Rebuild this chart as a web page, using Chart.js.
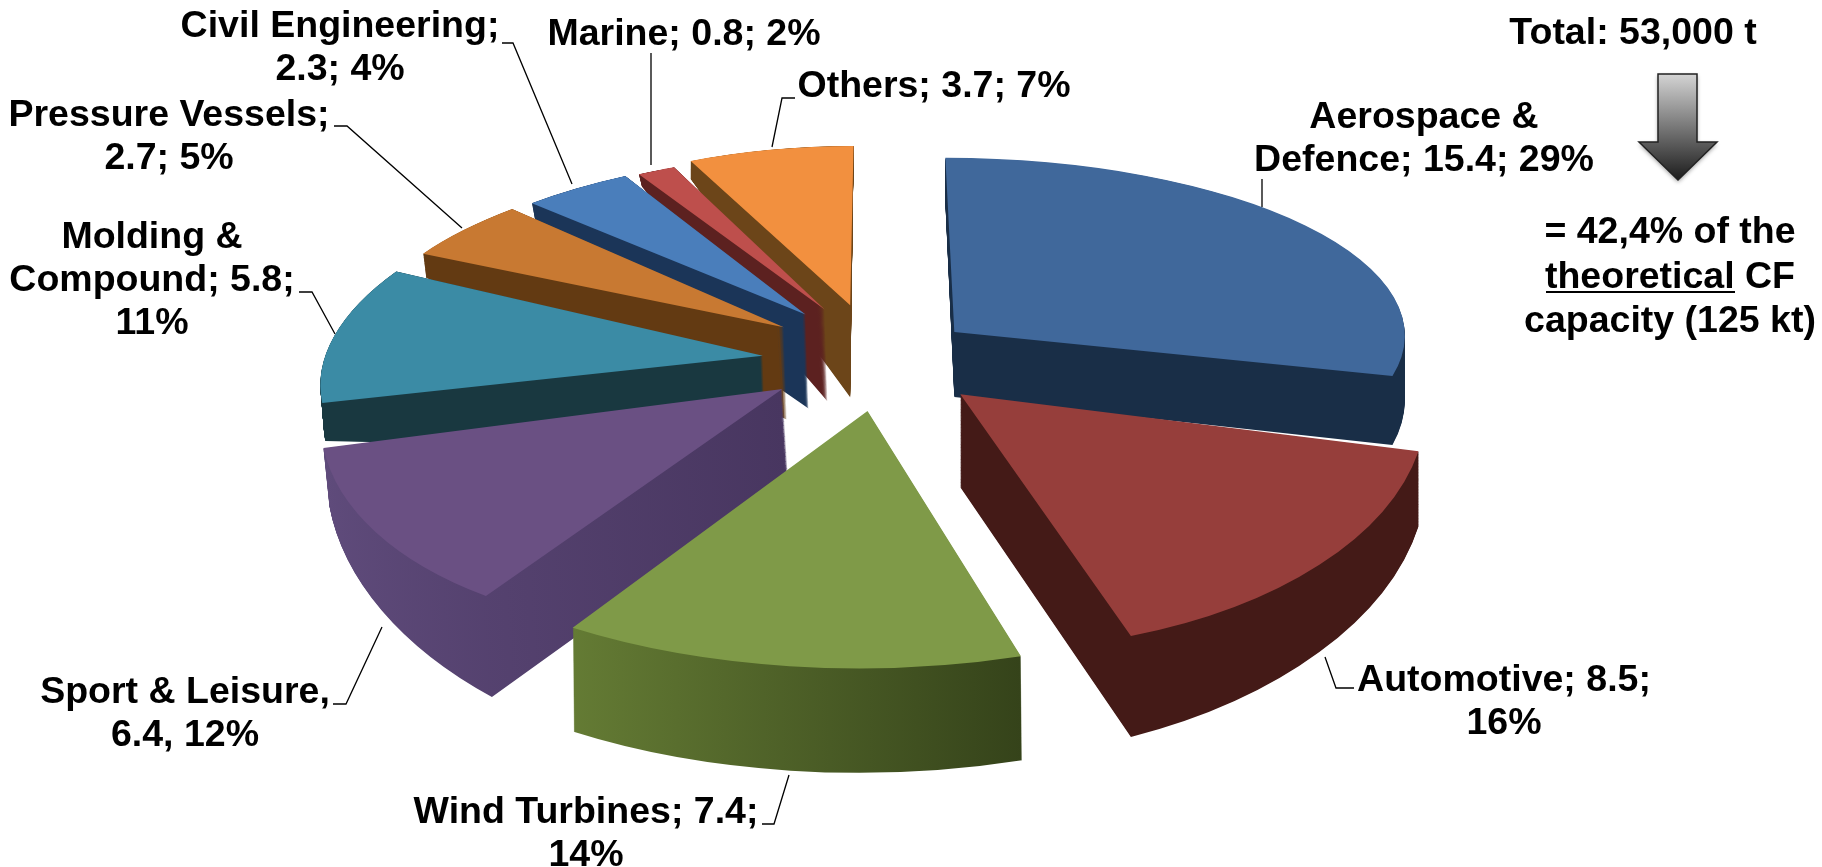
<!DOCTYPE html>
<html>
<head>
<meta charset="utf-8">
<title>CF demand by application</title>
<script src="https://cdn.jsdelivr.net/npm/chart.js@4"></script>
<style>
  html, body { margin: 0; background: #fff; }
  canvas { display: block; }
</style>
</head>
<body>
<canvas id="pieChart" width="1822" height="867"></canvas>
<script>
// data (kt)
const categories = ['Aerospace & Defence', 'Automotive', 'Wind Turbines', 'Sport & Leisure',
    'Molding & Compound', 'Pressure Vessels', 'Civil Engineering', 'Marine', 'Others'];
const values = [15.4, 8.5, 7.4, 6.4, 5.8, 2.7, 2.3, 0.8, 3.7];
const percents = [29, 16, 14, 12, 11, 5, 4, 2, 7];

// label wording, one inner list per slice
const labelLines = [
    ['Aerospace &', 'Defence; 15.4; 29%'],
    ['Automotive; 8.5;', '16%'],
    ['Wind Turbines; 7.4;', '14%'],
    ['Sport & Leisure,', '6.4, 12%'],
    ['Molding &', 'Compound; 5.8;', '11%'],
    ['Pressure Vessels;', '2.7; 5%'],
    ['Civil Engineering;', '2.3; 4%'],
    ['Marine; 0.8; 2%'],
    ['Others; 3.7; 7%']
];
const noteTotal = 'Total: 53,000 t';
const noteLines = ['= 42,4% of the', 'theoretical CF', 'capacity (125 kt)'];

// styles
const topColors = ['#40689b', '#963e3b', '#7f9a48', '#6a5083', '#3b8ba5', '#c87932', '#4a7ebb', '#be4f4c', '#f2903f'];
const wallColors = [
    ['#192e47', '#192e47'], ['#441a17', '#441a17'], ['#647b34', '#35431a'],
    ['#5f4b7b', '#483660'], ['#193840', '#193840'], ['#633a12', '#633a12'],
    ['#1b3558', '#1b3558'], ['#5c2120', '#5c2120'], ['#6c4519', '#6c4519']
];

// 3d look: back to front paint order, explosion and wall depth (apex, start of rim, end of rim)
const paintOrder = [8, 7, 6, 5, 4, 3, 0, 1, 2];
const explode = [105, 125, 120, 118, 110, 111, 110, 104, 105];
const depths = [[65, 45, 69], [93, 75, 101], [100, 104, 104], [95, 101, 58], [95, 38, 15],
    [92, 24, 15], [94, 16, 10], [92, 12, 8], [92, 18, 10]];
const view = { cx: 875, cy: 356, squash: 0.46, focal: 2400, radius: 440 };

// per slice corrections to the simple perspective model
const widthNudge = [1.12, 0.94, 1.02, 0.945, 1.01, 1.045, 1.05, 1.05, 1];
const heightNudge = [1.03, 1, 0.9, 1, 1, 1, 1, 1, 1.04];
const shearNudge = [0.2, 0.47, 0.68, 0.85, 1, 1, 1, 1, 0.3];
const skewNudge = [0, -0.018, 0, 0, 0, 0, 0, 0, 0];
const wallSlant = [0, 0, 1, 6, 3, 3, 3, 3, 0];
const drift = [[23, 7], [-17, 2], [5, 0], [5.5, 6], [-3, 5], [0, 3], [0, 3], [0, 2], [-3, 0]];

// label layout: centre x, first baseline, line gap
const labelPos = [[1424, 128], [1504, 691], [586, 823], [185, 703], [152, 248], [169, 126], [340, 37], [684, 45], [934, 97]];
const labelGap = 43;
const leaders = [
    [[1262, 179], [1262, 207]],
    [[1354, 688], [1336, 688], [1325, 657]],
    [[762, 824], [774, 824], [789, 775]],
    [[333, 704], [346, 704], [382, 627]],
    [[299, 292], [312, 292], [335, 334]],
    [[334, 126], [347, 126], [462, 228]],
    [[502, 43], [513, 43], [572, 184]],
    [[651, 53], [651, 165]],
    [[795, 98], [782, 98], [772, 147]]
];

function project(u, v) {
    const k = 1 / (1 - v / view.focal);
    return { x: view.cx + u * k, y: view.cy + v * view.squash * k, k: k };
}

// flat matrix that lays one arc on the tilted table, locally linear around the slice middle
function sliceMatrix(arc, i, t) {
    const mid = (arc.startAngle + arc.endAngle) / 2;
    const R = arc.outerRadius;
    const eu = Math.cos(mid) * explode[i], ev = Math.sin(mid) * explode[i];
    const u0 = eu + Math.cos(mid) * R * 0.6, v0 = ev + Math.sin(mid) * R * 0.6;
    const p = project(u0, v0);
    const a = p.k * widthNudge[i];
    const b = skewNudge[i];
    const c = shearNudge[i] * u0 * p.k * p.k / view.focal;
    const d = heightNudge[i] * view.squash * p.k * p.k;

    // wall depth as a plane through apex and both rim ends
    const [dA, dS, dE] = depths[i];
    const xs = R * Math.cos(arc.startAngle), ys = R * Math.sin(arc.startAngle);
    const xe = R * Math.cos(arc.endAngle), ye = R * Math.sin(arc.endAngle);
    const det = xs * ye - xe * ys;
    const gx = ((dS - dA) * ye - (dE - dA) * ys) / det;
    const gy = ((dE - dA) * xs - (dS - dA) * xe) / det;

    // canvas x,y -> screen x,y
    const ox = eu - u0 , oy = ev - v0;
    const e = p.x + drift[i][0] + t * wallSlant[i] + a * (ox - arc.x) + c * (oy - arc.y);
    const f = p.y + drift[i][1] + b * (ox - arc.x) + d * (oy - arc.y) + t * (dA - gx * arc.x - gy * arc.y);
    return [a, b + t * gx, c, d + t * gy, e, f];
}

function drawArc(ctx, arc, matrix, fill) {
    const saved = arc.options;
    arc.options = Object.assign({}, saved, { backgroundColor: fill, borderWidth: 0 });
    ctx.save();
    ctx.setTransform(...matrix);
    arc.draw(ctx);
    ctx.restore();
    arc.options = saved;
}

const tiltedPie = {
    id: 'tiltedPie',
    beforeDatasetsDraw(chart) {
        const ctx = chart.ctx;
        const arcs = chart.getDatasetMeta(0).data;
        paintOrder.forEach(i => {
            const arc = arcs[i];
            const R = arc.outerRadius;
            const xa = [0, R * Math.cos(arc.startAngle), R * Math.cos(arc.endAngle)];
            const wall = ctx.createLinearGradient(arc.x + Math.min(...xa), 0, arc.x + Math.max(...xa), 0);
            wall.addColorStop(0, wallColors[i][0]);
            wall.addColorStop(1, wallColors[i][1]);
            const steps = Math.ceil(Math.max(...depths[i]));
            for (let s = steps; s > 0; s--) {
                drawArc(ctx, arc, sliceMatrix(arc, i, s / steps), wall);
            }
            drawArc(ctx, arc, sliceMatrix(arc, i, 0), topColors[i]);
        });
        return false;
    },
    afterDraw(chart) {
        const ctx = chart.ctx;
        ctx.save();
        ctx.fillStyle = '#000';
        ctx.strokeStyle = '#000';
        ctx.lineWidth = 1.3;
        ctx.font = 'bold 37.5px "Liberation Sans"';
        ctx.textAlign = 'center';
        ctx.textBaseline = 'alphabetic';

        leaders.forEach(pts => {
            ctx.beginPath();
            pts.forEach((p, n) => n ? ctx.lineTo(p[0], p[1]) : ctx.moveTo(p[0], p[1]));
            ctx.stroke();
        });
        labelLines.forEach((lines, i) => {
            lines.forEach((line, n) => ctx.fillText(line, labelPos[i][0], labelPos[i][1] + n * labelGap));
        });

        ctx.fillText(noteTotal, 1633, 44);
        noteLines.forEach((line, n) => ctx.fillText(line, 1670, 243 + n * 44.5));
        ctx.lineWidth = 2;
        ctx.beginPath();
        ctx.moveTo(1546, 292);
        ctx.lineTo(1735, 292);
        ctx.stroke();

        // grey arrow under the total
        const grad = ctx.createLinearGradient(0, 74, 0, 180);
        grad.addColorStop(0, '#d4d4d4');
        grad.addColorStop(1, '#1c1c1c');
        ctx.shadowColor = 'rgba(0,0,0,0.4)';
        ctx.shadowBlur = 4;
        ctx.shadowOffsetY = 2;
        ctx.fillStyle = grad;
        ctx.strokeStyle = '#222';
        ctx.lineWidth = 1.5;
        ctx.beginPath();
        ctx.moveTo(1658, 74);
        ctx.lineTo(1697, 74);
        ctx.lineTo(1697, 142);
        ctx.lineTo(1717, 142);
        ctx.lineTo(1678, 180);
        ctx.lineTo(1639, 142);
        ctx.lineTo(1658, 142);
        ctx.closePath();
        ctx.fill();
        ctx.shadowColor = 'transparent';
        ctx.stroke();
        ctx.restore();
    }
};

new Chart(document.getElementById('pieChart').getContext('2d'), {
    type: 'pie',
    data: {
        labels: categories,
        datasets: [{
            label: 'Consumption (kt)',
            data: values,
            backgroundColor: topColors,
            borderWidth: 0,
            radius: view.radius
        }]
    },
    options: {
        responsive: false,
        animation: false,
        layout: { padding: 0 },
        plugins: {
            legend: { display: false },
            tooltip: { enabled: false }
        }
    },
    plugins: [tiltedPie]
});
</script>
</body>
</html>
